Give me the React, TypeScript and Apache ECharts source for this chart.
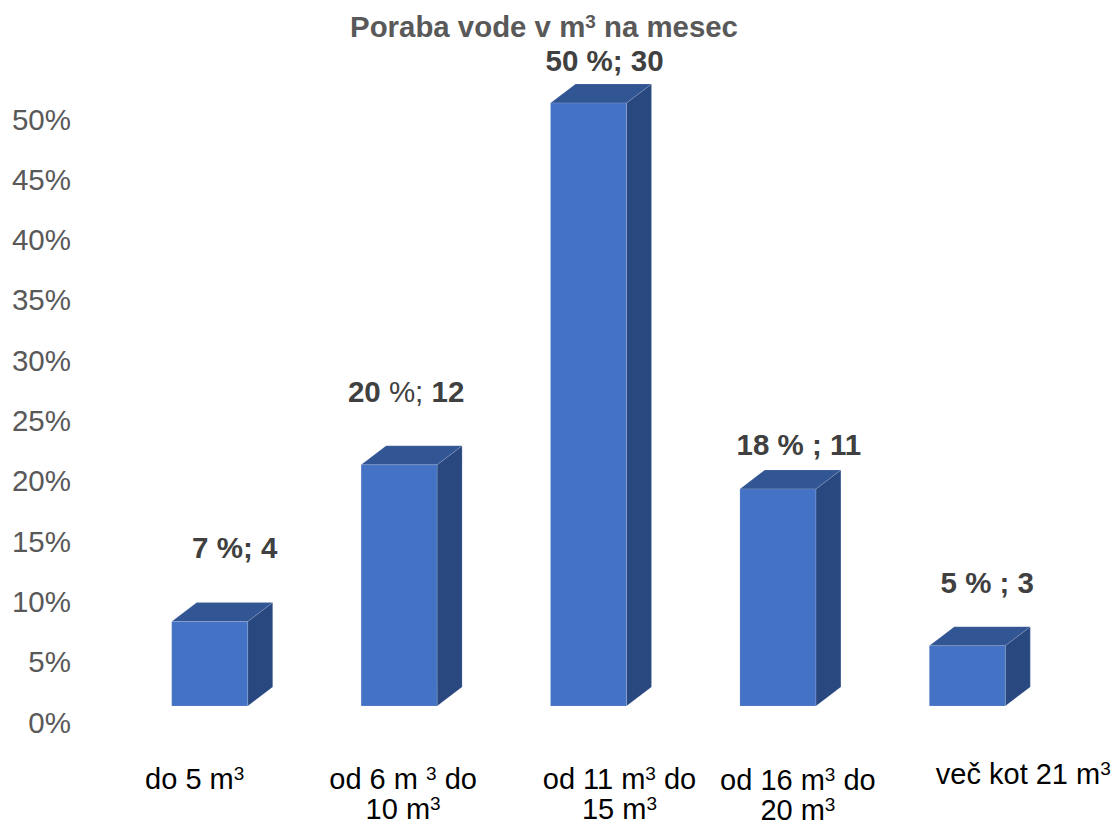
import React, { useEffect, useRef } from "react";
import * as echarts from "echarts";

const FONT = '"Liberation Sans", Arial, sans-serif';

// Water consumption classes, share of households (%) and household counts
const categories = [
  "do 5 m{sup|3}",
  "od 6 m {sup|3} do\n10 m{sup|3}",
  "od 11 m{sup|3} do\n15 m{sup|3}",
  "od 16 m{sup|3} do\n20 m{sup|3}",
  "več kot 21 m{sup|3}",
];
const shares = [7, 20, 50, 18, 5];
const valueLabels = [
  "7 %; 4",
  "{b|20} {n|%;} {b|12}",
  "50 %; 30",
  "18 % ; 11",
  "5 % ; 3",
];
const yTicks = { min: 0, max: 50, interval: 5 };

// Hand-placed text offsets (px) around each bar
const valueLabelShift = [
  [25, -74],
  [7, -73],
  [16, -43],
  [21, -44],
  [20, -63],
];
const categoryLabelShift = [
  [-15, 73],
  [4, 88],
  [31, 88],
  [20, 88.5],
  [56, 68],
];

const FRONT = "#4472C4";
const TOP = "#325594";
const SIDE = "#2A4880";
const BAR_W = 76;
const DEPTH_X = 25;
const DEPTH_Y = 19;
const FLOOR_LIFT = 16;

function renderBox(params: any, api: any) {
  const i = api.value(0);
  const v = api.value(1);
  const [cx, rawTop] = api.coord([i, v]);
  const [, rawBase] = api.coord([i, 0]);
  const top = rawTop - FLOOR_LIFT;
  const base = rawBase - FLOOR_LIFT;
  const l = cx - BAR_W / 2;
  const r = cx + BAR_W / 2;
  const edge = { stroke: "rgba(255,255,255,0.12)", lineWidth: 1 };
  return {
    type: "group",
    children: [
      {
        type: "polygon",
        shape: { points: [[r, top], [r + DEPTH_X, top - DEPTH_Y], [r + DEPTH_X, base - DEPTH_Y], [r, base]] },
        style: { fill: SIDE, ...edge },
      },
      {
        type: "polygon",
        shape: { points: [[l, top], [l + DEPTH_X, top - DEPTH_Y], [r + DEPTH_X, top - DEPTH_Y], [r, top]] },
        style: { fill: TOP, ...edge },
      },
      {
        type: "rect",
        shape: { x: l, y: top, width: BAR_W, height: base - top },
        style: { fill: FRONT, ...edge },
      },
      {
        type: "text",
        x: cx + valueLabelShift[i][0],
        y: top + valueLabelShift[i][1],
        style: {
          text: valueLabels[i],
          fontFamily: FONT,
          fontSize: 29.5,
          fontWeight: "bold",
          fill: "#404040",
          align: "center",
          verticalAlign: "middle",
          rich: {
            b: { fontFamily: FONT, fontSize: 29.5, fontWeight: "bold", fill: "#404040" },
            n: { fontFamily: FONT, fontSize: 29.5, fontWeight: "normal", fill: "#404040" },
          },
        },
      },
      {
        type: "text",
        x: cx + categoryLabelShift[i][0],
        y: base + categoryLabelShift[i][1],
        style: {
          text: categories[i],
          fontFamily: FONT,
          fontSize: 29,
          fill: "#000000",
          align: "center",
          verticalAlign: "middle",
          lineHeight: 30,
          rich: {
            sup: { fontFamily: FONT, fontSize: 19, fill: "#000000", verticalAlign: "top", lineHeight: 18 },
          },
        },
      },
    ],
  };
}

export default function App() {
  const ref = useRef<HTMLDivElement>(null);

  useEffect(() => {
    const chart = echarts.init(ref.current!, undefined, { renderer: "svg" });
    chart.setOption({
      animation: false,
      backgroundColor: "#ffffff",
      title: {
        text: "Poraba vode v m{sup|3} na mesec",
        left: 539,
        top: 7,
        textAlign: "center",
        textStyle: {
          fontFamily: FONT,
          fontSize: 29.4,
          fontWeight: "bold",
          color: "#595959",
          rich: {
            sup: { fontFamily: FONT, fontSize: 19, fontWeight: "bold", color: "#595959", verticalAlign: "top", lineHeight: 26 },
          },
        },
      },
      grid: { left: 115, right: 53, top: 119, bottom: 103 },
      xAxis: {
        type: "category",
        data: categories.map((_, i) => i),
        axisLine: { show: false },
        axisTick: { show: false },
        axisLabel: { show: false },
      },
      yAxis: {
        type: "value",
        min: yTicks.min,
        max: yTicks.max,
        interval: yTicks.interval,
        splitLine: { show: false },
        axisLine: { show: false },
        axisTick: { show: false },
        axisLabel: {
          formatter: "{value}%",
          fontFamily: FONT,
          fontSize: 29.5,
          color: "#595959",
          margin: 44,
        },
      },
      series: [
        {
          type: "custom",
          renderItem: renderBox,
          data: shares.map((v, i) => [i, v]),
          encode: { x: 0, y: 1 },
          clip: false,
        },
      ],
    });
    return () => chart.dispose();
  }, []);

  return <div ref={ref} style={{ position: "absolute", left: 0, top: 0, width: 1115, height: 825 }} />;
}
